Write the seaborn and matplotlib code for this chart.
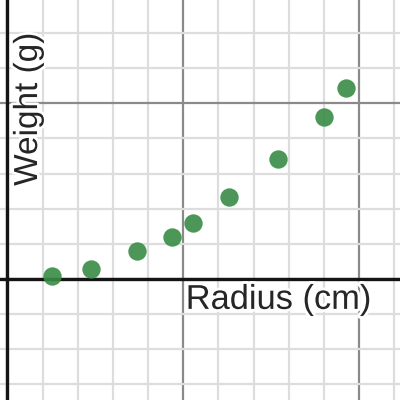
import matplotlib
matplotlib.use("Agg")
import matplotlib.pyplot as plt
import matplotlib.patheffects as pe
from matplotlib.ticker import MultipleLocator
import seaborn as sns
import pandas as pd

# Data (grid units)
radius = [1.27, 2.38, 3.68, 4.68, 5.27, 6.30, 7.70, 9.01, 9.63]
weight = [0.085, 0.29, 0.80, 1.19, 1.60, 2.32, 3.41, 4.62, 5.42]

x_label = "Radius (cm)"
y_label = "Weight (g)"

df = pd.DataFrame({"radius": radius, "weight": weight})

sns.set_style("white")
plt.rcParams["font.family"] = ["Liberation Sans", "DejaVu Sans"]

fig = plt.figure(figsize=(4, 4), dpi=100)
ax = fig.add_axes([0, 0, 1, 1])

# Grid, desmos style
ax.xaxis.set_major_locator(MultipleLocator(5))
ax.yaxis.set_major_locator(MultipleLocator(5))
ax.xaxis.set_minor_locator(MultipleLocator(1))
ax.yaxis.set_minor_locator(MultipleLocator(1))
ax.grid(which="minor", color="#dddddd", linewidth=1.6)
ax.grid(which="major", color="#8a8a8a", linewidth=1.6)
ax.set_axisbelow(True)
ax.tick_params(which="both", length=0, labelbottom=False, labelleft=False)
for spine in ax.spines.values():
  spine.set_visible(False)

ax.axhline(0, color="#141414", linewidth=2.4, zorder=1.5)
ax.axvline(0, color="#141414", linewidth=2.4, zorder=1.5)

sns.scatterplot(
  data=df,
  x="radius",
  y="weight",
  s=175,
  color="#388c46",
  alpha=0.9,
  linewidth=0,
  zorder=3,
  ax=ax,
)

halo = [pe.withStroke(linewidth=4, foreground="white")]
ax.text(5.07, -0.85, x_label, fontsize=24.8, ha="left", va="baseline",
        path_effects=halo, zorder=4)
ax.text(0.84, 2.65, y_label, fontsize=24, rotation=90, rotation_mode="anchor",
        ha="left", va="baseline", path_effects=halo, zorder=4)

ax.set_xlim(-0.213, 11.166)
ax.set_ylim(-3.442, 7.937)
ax.set_xlabel("")
ax.set_ylabel("")

fig.savefig("out.png", dpi=100)
